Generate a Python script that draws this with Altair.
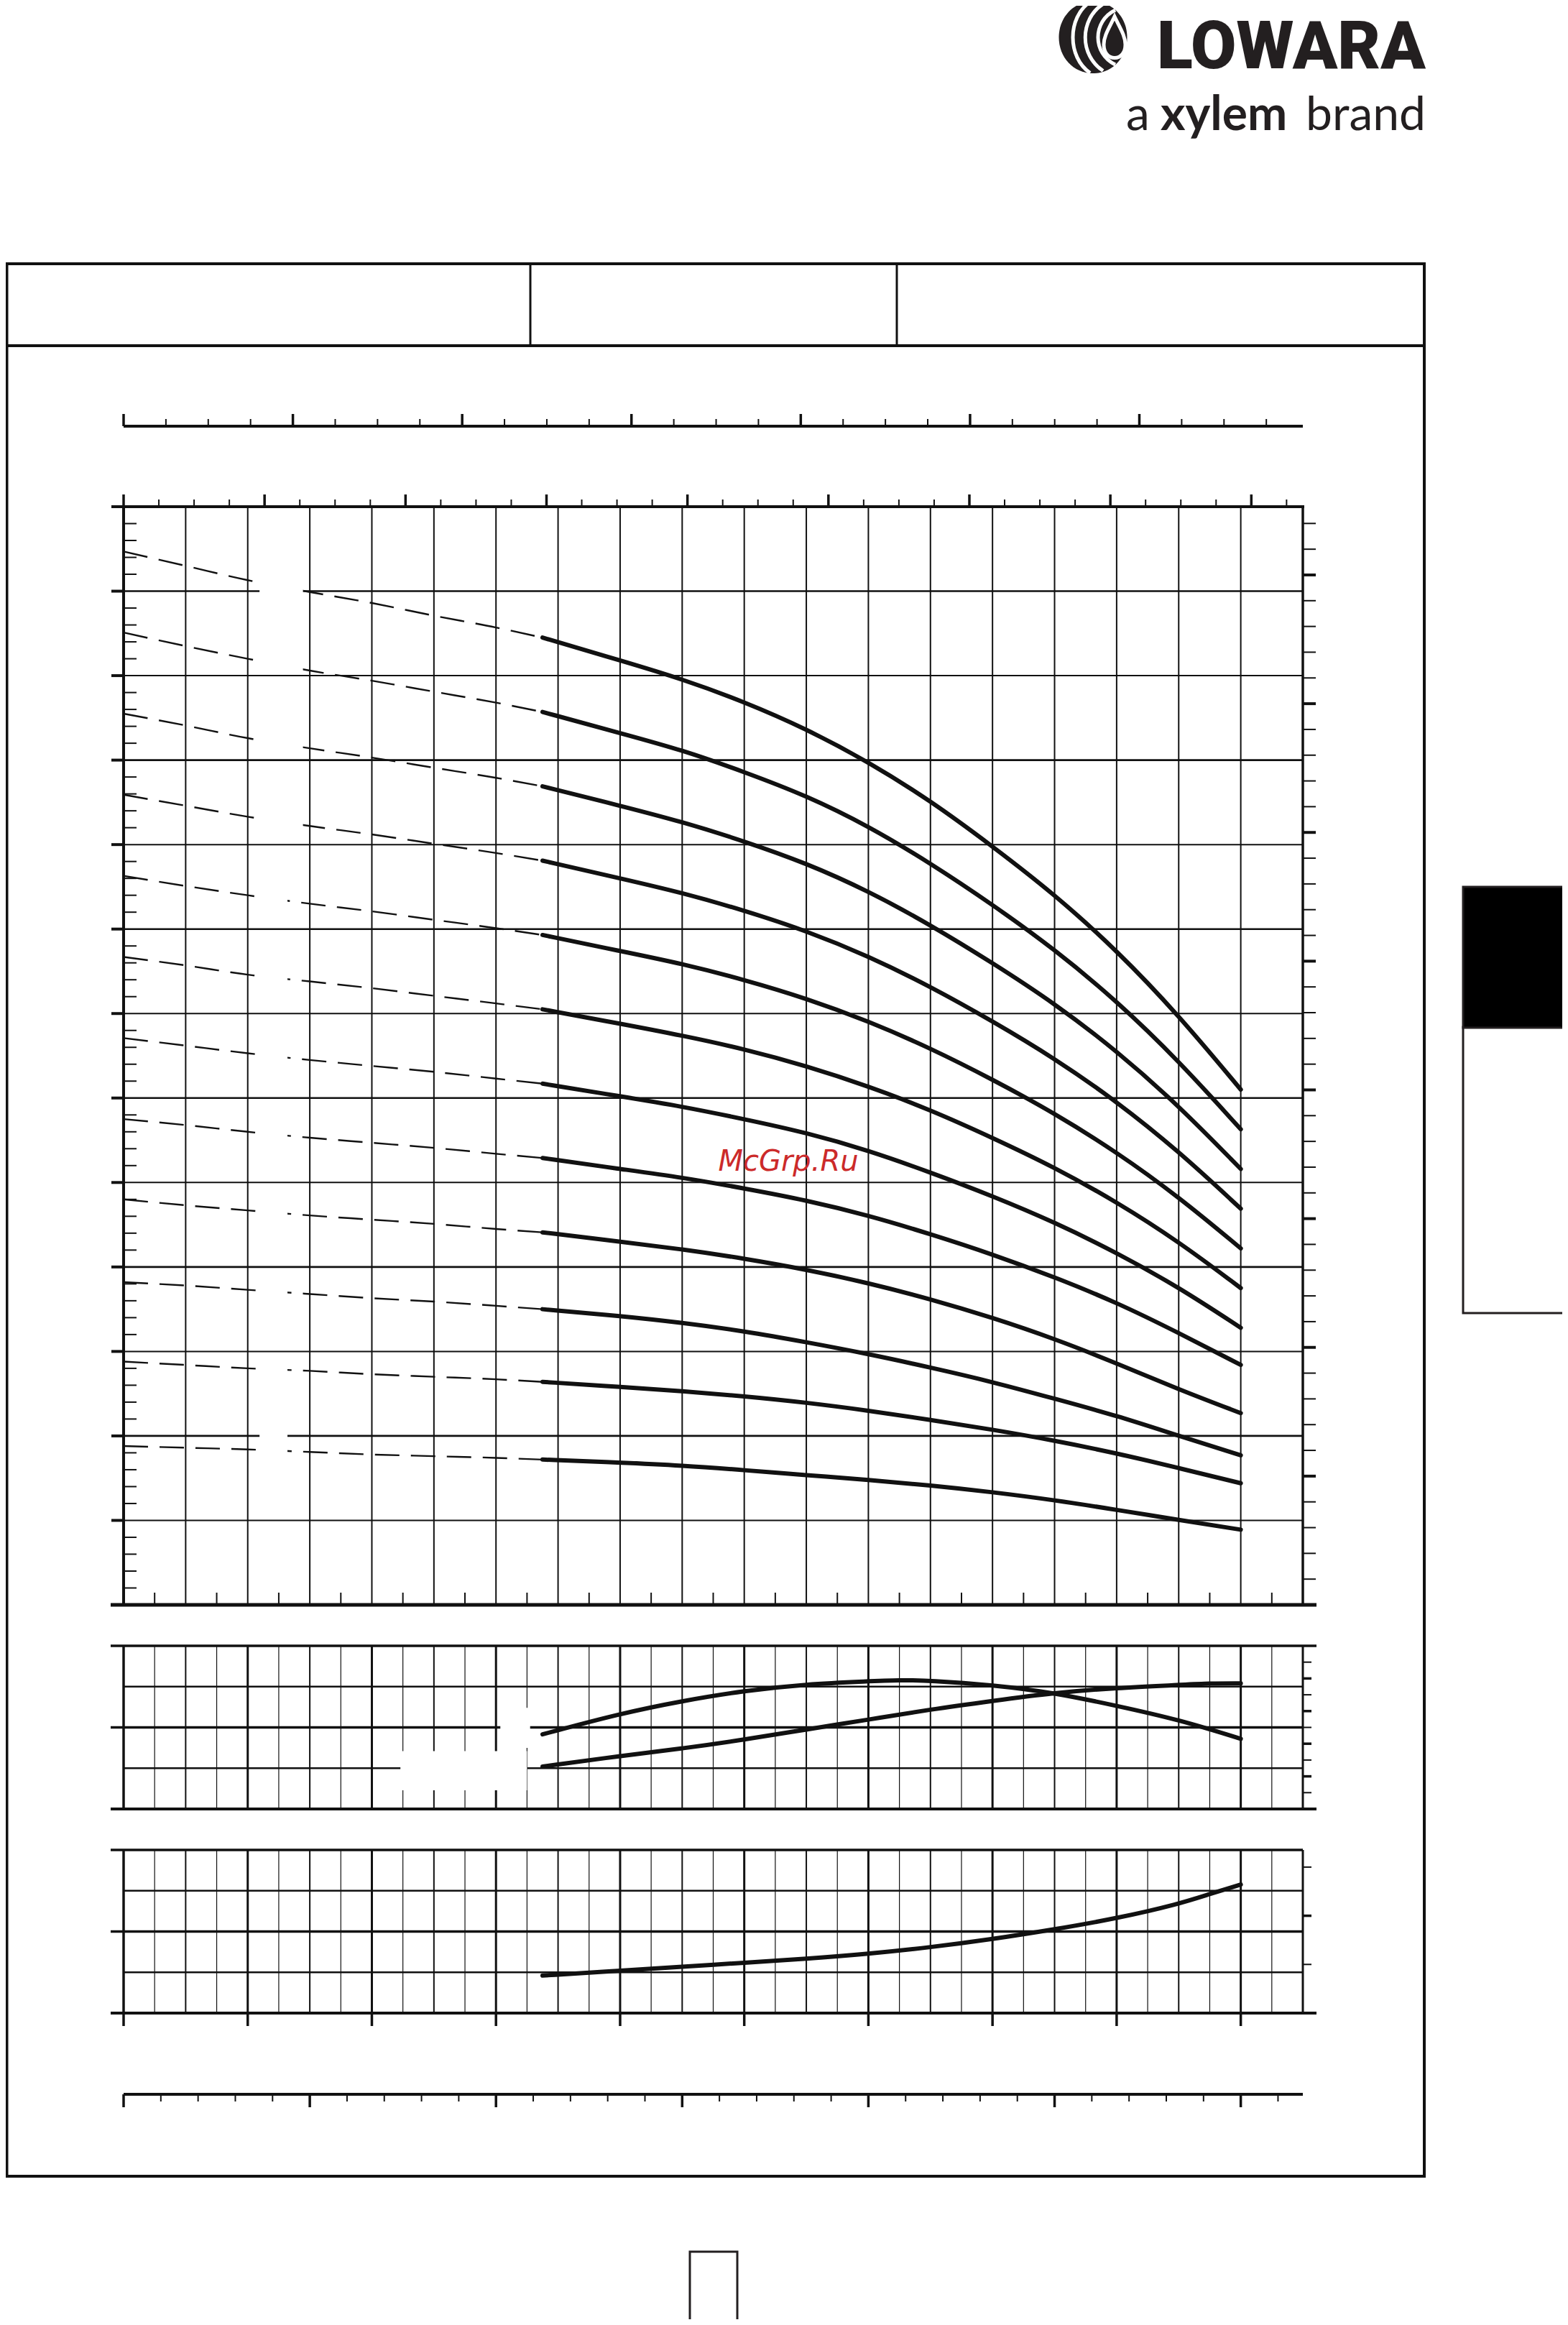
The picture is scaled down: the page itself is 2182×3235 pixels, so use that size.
import altair as alt
import pandas as pd

# ------------------------------------------------------------------
# DATA
# ------------------------------------------------------------------
STAGES = [13, 12, 11, 10, 9, 8, 7, 6, 5, 4, 3, 2]

# head curves H (m) versus flow Q (m3/h)
Q_DASHED = [0, 1, 2, 3, 4, 5, 6, 6.75]
Q_SOLID = [6.75, 8, 9, 10, 11, 12, 13, 14, 15, 16, 17, 18]

H13_DASHED = [124.7, 123.0, 121.3, 119.9, 118.6, 117.1, 115.7, 114.5]
H12_DASHED = [115.1, 113.5, 112.0, 110.6, 109.4, 108.1, 106.8, 105.7]
H11_DASHED = [105.5, 104.1, 102.6, 101.4, 100.3, 99.1, 97.9, 96.9]
H10_DASHED = [95.9, 94.6, 93.3, 92.2, 91.2, 90.1, 89.0, 88.1]
H9_DASHED = [86.3, 85.1, 84.0, 83.0, 82.1, 81.1, 80.1, 79.3]
H8_DASHED = [76.7, 75.7, 74.6, 73.8, 73.0, 72.1, 71.2, 70.5]
H7_DASHED = [67.1, 66.2, 65.3, 64.5, 63.8, 63.1, 62.3, 61.7]
H6_DASHED = [57.5, 56.8, 56.0, 55.3, 54.7, 54.1, 53.4, 52.9]
H5_DASHED = [48.0, 47.3, 46.7, 46.1, 45.6, 45.1, 44.5, 44.1]
H4_DASHED = [38.2, 37.8, 37.3, 36.8, 36.3, 35.9, 35.4, 35.0]
H3_DASHED = [28.8, 28.4, 28.0, 27.7, 27.3, 27.0, 26.7, 26.4]
H2_DASHED = [18.8, 18.6, 18.4, 18.1, 17.8, 17.6, 17.4, 17.2]

H13_SOLID = [114.5, 111.8, 109.6, 106.9, 103.7, 99.8, 95.2, 89.8, 84.1, 77.5, 69.8, 61.0]
H12_SOLID = [105.7, 103.2, 101.2, 98.6, 95.8, 92.2, 87.8, 82.9, 77.6, 71.5, 64.4, 56.3]
H11_SOLID = [96.9, 94.6, 92.7, 90.4, 87.8, 84.5, 80.5, 76.0, 71.2, 65.6, 59.1, 51.6]
H10_SOLID = [88.1, 86.0, 84.3, 82.2, 79.8, 76.8, 73.2, 69.1, 64.7, 59.6, 53.7, 46.9]
H9_SOLID = [79.3, 77.4, 75.9, 74.0, 71.8, 69.1, 65.9, 62.2, 58.2, 53.6, 48.3, 42.2]
H8_SOLID = [70.5, 68.8, 67.4, 65.8, 63.8, 61.4, 58.6, 55.3, 51.8, 47.7, 43.0, 37.5]
H7_SOLID = [61.7, 60.2, 59.0, 57.5, 55.9, 53.8, 51.2, 48.4, 45.3, 41.7, 37.6, 32.8]
H6_SOLID = [52.9, 51.6, 50.6, 49.3, 47.9, 46.1, 43.9, 41.5, 38.8, 35.8, 32.2, 28.4]
H5_SOLID = [44.1, 43.0, 42.1, 41.0, 39.7, 38.1, 36.2, 34.0, 31.5, 28.6, 25.5, 22.7]
H4_SOLID = [35.0, 34.2, 33.4, 32.4, 31.1, 29.7, 28.1, 26.4, 24.4, 22.4, 20.0, 17.7]
H3_SOLID = [26.4, 25.8, 25.3, 24.7, 23.95, 23.0, 21.9, 20.75, 19.45, 17.95, 16.2, 14.4]
H2_SOLID = [17.2, 16.85, 16.5, 15.95, 15.35, 14.8, 14.15, 13.35, 12.4, 11.25, 10.05, 8.9]

# efficiency (%) and NPSH (m)
Q_EFF = [6.75, 8, 9, 10, 11, 12, 12.5, 13, 14, 15, 16, 17, 18]
EFF = [36.6, 46.8, 53.0, 58.0, 61.2, 62.6, 63.2, 63.0, 60.8, 57.0, 50.6, 43.8, 34.4]
Q_NPSH = [6.75, 8, 9, 10, 11, 12, 13, 14, 15, 16, 17, 17.5, 18]
NPSH = [1.04, 1.30, 1.48, 1.70, 1.95, 2.19, 2.44, 2.65, 2.85, 2.97, 3.04, 3.08, 3.08]

# power per stage (kW)
Q_POWER = [6.75, 8, 9, 10, 11, 12, 13, 14, 15, 16, 17, 17.5, 18]
POWER = [0.230, 0.260, 0.285, 0.308, 0.333, 0.363, 0.403, 0.453, 0.513, 0.580, 0.668, 0.730, 0.788]

# label masks (white boxes where curve labels were)
MASK_Q_START = [2.19] * 12
MASK_Q_END = [2.89, 2.89, 2.89, 2.89, 2.64, 2.64, 2.64, 2.64, 2.64, 2.64, 2.64, 2.64]
MASK_H_LOW = [118.8, 110.3, 100.4, 91.1, 81.9, 72.6, 63.3, 54.1, 44.8, 35.5, 26.3, 16.9]
MASK_H_HIGH = [122.4, 113.1, 103.8, 94.5, 85.3, 76.0, 66.7, 57.5, 48.2, 38.9, 29.7, 20.2]
PANEL_MASK_Q_START = [4.46, 6.07]
PANEL_MASK_Q_END = [6.50, 6.55]
PANEL_MASK_LOW = [0.46, 1.50]
PANEL_MASK_HIGH = [1.42, 2.48]

# axis tick values
H_GRID_BOLD = [20, 40, 60, 80, 100, 120]
H_GRID_THIN = [10, 30, 50, 70, 90, 110]
H_MAJOR_TICKS = [h for h in range(0, 131, 10)]
H_MINOR_TICKS = [h for h in range(2, 130, 2) if h % 10 != 0]
FT_MAJOR_TICKS = [f for f in range(50, 421, 50)]
FT_MINOR_TICKS = [f for f in range(10, 421, 10) if f % 50 != 0]
Q_GRID_MAIN = [q for q in range(1, 19)]
Q_HALF_TICKS = [q + 0.5 for q in range(0, 19)]
Q_EVEN = [q for q in range(2, 19, 2)]
Q_ODD = [q for q in range(1, 19, 2)]
Q_POWER_TICKS = [q for q in range(0, 19, 2)]
US_GPM_MAJOR = [g for g in range(0, 81, 10)]
US_GPM_MINOR = [g / 2 for g in range(0, 166, 5) if g % 20 != 0]
IMP_GPM_MAJOR = [g for g in range(0, 61, 10)]
IMP_GPM_MINOR = [g / 2 for g in range(0, 136, 5) if g % 20 != 0]
LMIN_MAJOR = [v for v in range(0, 301, 50)]
LMIN_MINOR = [v for v in range(10, 311, 10) if v % 50 != 0]
NPSH_GRID_THIN = [1, 3]
NPSH_GRID_BOLD = [2]
NPSH_RIGHT_MAJOR = [0.8, 1.6, 2.4, 3.2]
NPSH_RIGHT_MINOR = [0.4, 1.2, 2.0, 2.8, 3.6]
KW_GRID_THIN = [0.25, 0.75]
KW_GRID_BOLD = [0.5]
HP_RIGHT_MAJOR = [0.8]
HP_RIGHT_MINOR = [0.4, 1.2]

# ------------------------------------------------------------------
# LAYOUT (page pixels of the reference)
# ------------------------------------------------------------------
OFF = 8
W, HT = 2166, 3219
X_LEFT, X_RIGHT = 172, 1813
MAIN_TOP, MAIN_BOT = 705, 2233
EFF_TOP, EFF_BOT = 2290, 2517
POW_TOP, POW_BOT = 2574, 2801
IMP_AXIS_Y = 593
LMIN_AXIS_Y = 2914

PX_PER_Q = (X_RIGHT - X_LEFT) / 19.0


def px(p):
    return p - OFF


XDOM_Q = [(OFF - X_LEFT) / PX_PER_Q, (OFF + W - X_LEFT) / PX_PER_Q]


def xdom_units(per_m3h):
    return [XDOM_Q[0] * per_m3h, XDOM_Q[1] * per_m3h]


def ydom(v0, p0, v1, p1):
    k = (p0 - p1) / (v1 - v0)
    return [v0 - (OFF + HT - p0) / k, v0 + (p0 - OFF) / k]


X_US = xdom_units(1 / 0.2271247)
X_IMP = xdom_units(1 / 0.2727654)
X_LMIN = xdom_units(1000 / 60)
Y_MAIN = ydom(0, MAIN_BOT, 130, MAIN_TOP)
Y_FT = ydom(0, MAIN_BOT, 130 / 0.3048, MAIN_TOP)
Y_EFF = ydom(0, EFF_BOT, 80, EFF_TOP)
Y_NPSH = ydom(0, EFF_BOT, 4, EFF_TOP)
Y_KW = ydom(0, POW_BOT, 1, POW_TOP)
Y_HP = ydom(0, POW_BOT, 1 / 0.7457, POW_TOP)


def X(field, dom=XDOM_Q):
    return alt.X(field, type="quantitative",
                 scale=alt.Scale(domain=dom, nice=False, zero=False), axis=None)


def Y(field, dom):
    return alt.Y(field, type="quantitative",
                 scale=alt.Scale(domain=dom, nice=False, zero=False), axis=None)


ONE = pd.DataFrame({"z": [0]})
INK = "#111111"
CURVE_W = 6
layers = []


def hrule(values, dom, x1, x2, w):
    return alt.Chart(pd.DataFrame({"v": values})).mark_rule(color=INK, strokeWidth=w).encode(
        y=Y("v", dom), x=alt.value(px(x1)), x2=alt.value(px(x2)))


def vrule(values, dom, y1, y2, w):
    return alt.Chart(pd.DataFrame({"v": values})).mark_rule(color=INK, strokeWidth=w).encode(
        x=X("v", dom), y=alt.value(px(y1)), y2=alt.value(px(y2)))


def fixed_rule(x1, y1, x2, y2, w, color=INK):
    return alt.Chart(ONE).mark_rule(color=color, strokeWidth=w).encode(
        x=alt.value(px(x1)), y=alt.value(px(y1)), x2=alt.value(px(x2)), y2=alt.value(px(y2)))


def long_table(qs, series, stages):
    rows = []
    for n, hs in zip(stages, series):
        for q, h in zip(qs, hs):
            rows.append({"n": n, "q": q, "h": h})
    return pd.DataFrame(rows)


# ---------------- page decorations ----------------
layers.append(alt.Chart(ONE).mark_rect(fill="white", fillOpacity=0, stroke=INK, strokeWidth=4).encode(
    x=alt.value(1.5), x2=alt.value(px(1982)), y=alt.value(px(367)), y2=alt.value(px(3028))))
layers.append(fixed_rule(OFF, 481, 1982, 481, 4))
layers.append(fixed_rule(738, 367, 738, 481, 3))
layers.append(fixed_rule(1248, 367, 1248, 481, 3))
# side tab
layers.append(alt.Chart(ONE).mark_rect(fill="white", stroke="#231f20", strokeWidth=3).encode(
    x=alt.value(px(2036)), x2=alt.value(px(2190)), y=alt.value(px(1429)), y2=alt.value(px(1827))))
layers.append(alt.Chart(ONE).mark_rect(fill="black", stroke="#231f20", strokeWidth=3).encode(
    x=alt.value(px(2036)), x2=alt.value(px(2190)), y=alt.value(px(1234)), y2=alt.value(px(1430))))
# page number box
layers.append(alt.Chart(ONE).mark_rect(fill="white", stroke="#231f20", strokeWidth=3).encode(
    x=alt.value(px(960)), x2=alt.value(px(1026)), y=alt.value(px(3133)), y2=alt.value(px(3250))))

# ---------------- logo ----------------
ICON_OVAL = "M0,-1 C0.55,-1 0.95,-0.55 0.95,0 C0.95,0.55 0.55,1 0,1 C-0.55,1 -0.95,0.55 -0.95,0 C-0.95,-0.55 -0.55,-1 0,-1 Z"
ICON_STRIPES = [
    "M-0.08,-0.99 C-0.72,-0.55 -0.72,0.55 -0.08,0.99",
    "M0.28,-0.93 C-0.38,-0.5 -0.38,0.5 0.28,0.93",
    "M0.62,-0.76 C-0.02,-0.45 -0.02,0.45 0.62,0.76",
    "M0.6,-0.58 C0.46,-0.28 0.3,-0.05 0.3,0.2 C0.3,0.45 0.45,0.57 0.6,0.57 C0.78,0.57 0.9,0.42 0.9,0.2 C0.9,-0.05 0.74,-0.28 0.6,-0.58 Z",
]
ICON_CX, ICON_CY = 1521, 52
layers.append(alt.Chart(ONE).mark_point(shape=ICON_OVAL, size=10000, filled=True, fill="#231f20",
                                        strokeWidth=0, opacity=1).encode(
    x=alt.value(px(ICON_CX)), y=alt.value(px(ICON_CY))))
for path in ICON_STRIPES:
    layers.append(alt.Chart(ONE).mark_point(shape=path, size=10000, filled=False, stroke="white",
                                            strokeWidth=5, opacity=1).encode(
        x=alt.value(px(ICON_CX)), y=alt.value(px(ICON_CY))))
layers.append(alt.Chart(ONE).mark_text(text="LOWARA", font="Roboto", fontSize=92, fontWeight=900,
                                       align="right", baseline="alphabetic", color="#231f20").encode(
    x=alt.value(px(1984)), y=alt.value(px(95))))
layers.append(alt.Chart(ONE).mark_text(text="a", font="Lato", fontSize=66, align="left",
                                       baseline="alphabetic", color="#231f20").encode(
    x=alt.value(px(1567)), y=alt.value(px(181))))
layers.append(alt.Chart(ONE).mark_text(text="xylem", font="Lato", fontSize=66, fontWeight="bold",
                                       align="left", baseline="alphabetic", color="#231f20").encode(
    x=alt.value(px(1615)), y=alt.value(px(181))))
layers.append(alt.Chart(ONE).mark_text(text="brand", font="Lato", fontSize=66, align="right",
                                       baseline="alphabetic", color="#231f20").encode(
    x=alt.value(px(1984)), y=alt.value(px(181))))

# ---------------- main chart grid ----------------
layers.append(hrule(H_GRID_THIN, Y_MAIN, X_LEFT, X_RIGHT, 2))
layers.append(hrule(H_GRID_BOLD, Y_MAIN, X_LEFT, X_RIGHT, 2.6))
layers.append(vrule(Q_GRID_MAIN, XDOM_Q, MAIN_TOP, MAIN_BOT, 2))

# dashed (extrapolated) parts
dashed = long_table(Q_DASHED, [H13_DASHED, H12_DASHED, H11_DASHED, H10_DASHED, H9_DASHED, H8_DASHED,
                               H7_DASHED, H6_DASHED, H5_DASHED, H4_DASHED, H3_DASHED, H2_DASHED], STAGES)
layers.append(alt.Chart(dashed).mark_line(color=INK, strokeWidth=2.4, strokeDash=[34, 16],
                                          interpolate="monotone").encode(
    x=X("q"), y=Y("h", Y_MAIN), detail="n:N"))

# label masks
masks = pd.DataFrame({"q0": MASK_Q_START, "q1": MASK_Q_END, "h0": MASK_H_LOW, "h1": MASK_H_HIGH})
layers.append(alt.Chart(masks).mark_rect(color="white").encode(
    x=X("q0"), x2="q1", y=Y("h0", Y_MAIN), y2="h1"))

# main frame
layers.append(fixed_rule(155, MAIN_TOP, X_RIGHT + 2, MAIN_TOP, 4))
layers.append(fixed_rule(X_LEFT, MAIN_TOP, X_LEFT, MAIN_BOT, 4))
layers.append(fixed_rule(X_RIGHT, MAIN_TOP, X_RIGHT, MAIN_BOT, 3.5))
layers.append(fixed_rule(154, MAIN_BOT, 1832, MAIN_BOT, 5))

# left metre ticks, right foot ticks
layers.append(hrule(H_MAJOR_TICKS, Y_MAIN, 155, X_LEFT, 4))
layers.append(hrule(H_MINOR_TICKS, Y_MAIN, X_LEFT, X_LEFT + 18, 2))
layers.append(hrule(FT_MAJOR_TICKS, Y_FT, X_RIGHT, X_RIGHT + 18, 4))
layers.append(hrule(FT_MINOR_TICKS, Y_FT, X_RIGHT, X_RIGHT + 18, 2))
# bottom half ticks
layers.append(vrule(Q_HALF_TICKS, XDOM_Q, MAIN_BOT, MAIN_BOT - 17, 2))
# top US gpm ticks
layers.append(vrule(US_GPM_MAJOR, X_US, MAIN_TOP, MAIN_TOP - 17, 3.5))
layers.append(vrule(US_GPM_MINOR, X_US, MAIN_TOP, MAIN_TOP - 10, 2))
# top Imp gpm axis
layers.append(fixed_rule(X_LEFT, IMP_AXIS_Y, X_RIGHT, IMP_AXIS_Y, 4))
layers.append(vrule(IMP_GPM_MAJOR, X_IMP, IMP_AXIS_Y, IMP_AXIS_Y - 17, 3.5))
layers.append(vrule(IMP_GPM_MINOR, X_IMP, IMP_AXIS_Y, IMP_AXIS_Y - 10, 2))

# solid head curves
solid = long_table(Q_SOLID, [H13_SOLID, H12_SOLID, H11_SOLID, H10_SOLID, H9_SOLID, H8_SOLID,
                             H7_SOLID, H6_SOLID, H5_SOLID, H4_SOLID, H3_SOLID, H2_SOLID], STAGES)
layers.append(alt.Chart(solid).mark_line(color=INK, strokeWidth=CURVE_W, strokeCap="round",
                                         strokeJoin="round", interpolate="basis").encode(
    x=X("q"), y=Y("h", Y_MAIN), detail="n:N"))


# ---------------- lower panels ----------------
def panel_grid(top, bot):
    out = []
    out.append(vrule(Q_HALF_TICKS, XDOM_Q, top, bot, 1.2))
    out.append(vrule(Q_ODD, XDOM_Q, top, bot, 2))
    out.append(vrule(Q_EVEN, XDOM_Q, top, bot, 3))
    return out


# efficiency / NPSH panel
layers.extend(panel_grid(EFF_TOP, EFF_BOT))
layers.append(hrule(NPSH_GRID_THIN, Y_NPSH, X_LEFT, X_RIGHT, 2.5))
layers.append(hrule(NPSH_GRID_BOLD, Y_NPSH, 154, X_RIGHT, 3.5))
pmask = pd.DataFrame({"q0": PANEL_MASK_Q_START, "q1": PANEL_MASK_Q_END,
                      "v0": PANEL_MASK_LOW, "v1": PANEL_MASK_HIGH})
layers.append(alt.Chart(pmask).mark_rect(color="white").encode(
    x=X("q0"), x2="q1", y=Y("v0", Y_NPSH), y2="v1"))
layers.append(fixed_rule(154, EFF_TOP, 1832, EFF_TOP, 3.5))
layers.append(fixed_rule(154, EFF_BOT, 1832, EFF_BOT, 4))
layers.append(fixed_rule(X_LEFT, EFF_TOP, X_LEFT, EFF_BOT, 3.5))
layers.append(fixed_rule(X_RIGHT, EFF_TOP, X_RIGHT, EFF_BOT, 3))
layers.append(hrule(NPSH_RIGHT_MAJOR, Y_NPSH, X_RIGHT, X_RIGHT + 12, 3.5))
layers.append(hrule(NPSH_RIGHT_MINOR, Y_NPSH, X_RIGHT, X_RIGHT + 12, 2))
layers.append(alt.Chart(pd.DataFrame({"q": Q_EFF, "eff": EFF})).mark_line(
    color=INK, strokeWidth=CURVE_W, strokeCap="round", interpolate="basis").encode(
    x=X("q"), y=Y("eff", Y_EFF)))
layers.append(alt.Chart(pd.DataFrame({"q": Q_NPSH, "npsh": NPSH})).mark_line(
    color=INK, strokeWidth=CURVE_W, strokeCap="round", interpolate="basis").encode(
    x=X("q"), y=Y("npsh", Y_NPSH)))

# power panel
layers.extend(panel_grid(POW_TOP, POW_BOT))
layers.append(hrule(KW_GRID_THIN, Y_KW, X_LEFT, X_RIGHT, 2.5))
layers.append(hrule(KW_GRID_BOLD, Y_KW, 154, X_RIGHT, 3.5))
layers.append(fixed_rule(154, POW_TOP, X_RIGHT, POW_TOP, 3.5))
layers.append(fixed_rule(154, POW_BOT, 1832, POW_BOT, 4))
layers.append(fixed_rule(X_LEFT, POW_TOP, X_LEFT, POW_BOT, 3.5))
layers.append(fixed_rule(X_RIGHT, POW_TOP, X_RIGHT, POW_BOT, 3))
layers.append(hrule(HP_RIGHT_MAJOR, Y_HP, X_RIGHT, X_RIGHT + 12, 3.5))
layers.append(hrule(HP_RIGHT_MINOR, Y_HP, X_RIGHT, X_RIGHT + 12, 2))
layers.append(vrule(Q_POWER_TICKS, XDOM_Q, POW_BOT, POW_BOT + 18, 3.5))
layers.append(alt.Chart(pd.DataFrame({"q": Q_POWER, "p": POWER})).mark_line(
    color=INK, strokeWidth=CURVE_W, strokeCap="round", interpolate="basis").encode(
    x=X("q"), y=Y("p", Y_KW)))

# bottom l/min axis
layers.append(fixed_rule(X_LEFT, LMIN_AXIS_Y, X_RIGHT, LMIN_AXIS_Y, 4))
layers.append(vrule(LMIN_MAJOR, X_LMIN, LMIN_AXIS_Y, LMIN_AXIS_Y + 18, 3.5))
layers.append(vrule(LMIN_MINOR, X_LMIN, LMIN_AXIS_Y, LMIN_AXIS_Y + 10, 2))

# watermark
layers.append(alt.Chart(ONE).mark_text(text="McGrp.Ru", font="DejaVu Sans", fontSize=40,
                                       fontStyle="italic", color="#cc2a2a", align="center",
                                       baseline="middle").encode(
    x=alt.value(px(1097)), y=alt.value(px(1617))))

chart = alt.layer(*layers).resolve_scale(x="independent", y="independent").properties(
    width=W, height=HT, padding=0, autosize=alt.AutoSizeParams(type="none")
).configure_view(stroke=None)

chart.save("out.html", embed_options={"renderer": "svg", "actions": False})
